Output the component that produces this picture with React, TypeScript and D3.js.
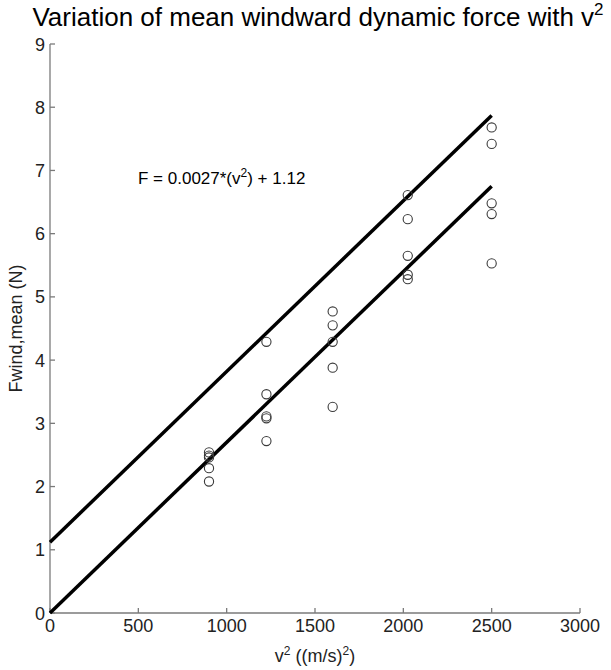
import React from "react";
import * as d3 from "d3";

const xValues = [900, 1225, 1600, 2025, 2500];
const group900 = [2.54, 2.49, 2.46, 2.29, 2.08];
const group1225 = [4.29, 3.46, 3.11, 3.08, 2.72];
const group1600 = [4.77, 4.55, 4.29, 3.88, 3.26];
const group2025 = [6.61, 6.23, 5.65, 5.35, 5.28];
const group2500 = [7.68, 7.42, 6.48, 6.31, 5.53];
const groups = [group900, group1225, group1600, group2025, group2500];

const upperFit = { slope: 0.0027, intercept: 1.12 };
const lowerFit = { slope: 0.0027, intercept: 0 };
const fitRange = [0, 2500];

const xTicks = [0, 500, 1000, 1500, 2000, 2500, 3000];
const yTicks = [0, 1, 2, 3, 4, 5, 6, 7, 8, 9];

const W = 611;
const H = 670;
const FONT = "'Liberation Sans', Arial, sans-serif";

export default function App() {
  const x = d3.scaleLinear().domain([0, 3000]).range([50, 580]);
  const y = d3.scaleLinear().domain([0, 9]).range([613, 44]);

  const points: { vx: number; vy: number }[] = [];
  xValues.forEach((vx, i) => groups[i].forEach((vy) => points.push({ vx, vy })));

  const fitPath = (f: { slope: number; intercept: number }) =>
    d3
      .line<number>()
      .x((d) => x(d))
      .y((d) => y(f.slope * d + f.intercept))(fitRange) as string;

  const axisColor = "#7a7a7a";
  const textColor = "#222";

  return (
    <svg
      width={W}
      height={H}
      style={{ position: "absolute", left: 0, top: 0, background: "#fff" }}
      fontFamily={FONT}
    >
      <rect x={0} y={0} width={W} height={H} fill="#fff" />
      {/* title */}
      <text x={318} y={26} textAnchor="middle" fontSize={26} fill="#000">
        Variation of mean windward dynamic force with v
        <tspan dy={-11} fontSize={17}>2</tspan>
      </text>

      {/* axes */}
      <line x1={x(0)} x2={x(0)} y1={y(0)} y2={y(9)} stroke={axisColor} strokeWidth={1.3} />
      <line x1={x(0)} x2={x(3000)} y1={y(0)} y2={y(0)} stroke={axisColor} strokeWidth={1.3} />
      {yTicks.map((t) => (
        <g key={"y" + t}>
          <line x1={x(0)} x2={x(0) + 5} y1={y(t)} y2={y(t)} stroke={axisColor} strokeWidth={1.3} />
          <text x={x(0) - 5} y={y(t) + 6.5} textAnchor="end" fontSize={18} fill={textColor}>
            {t}
          </text>
        </g>
      ))}
      {xTicks.map((t) => (
        <g key={"x" + t}>
          <line x1={x(t)} x2={x(t)} y1={y(0)} y2={y(0) - 5} stroke={axisColor} strokeWidth={1.3} />
          <text x={x(t)} y={y(0) + 19} textAnchor="middle" fontSize={18} fill={textColor}>
            {t}
          </text>
        </g>
      ))}

      {/* axis labels */}
      <text
        transform={`translate(22, ${(y(0) + y(9)) / 2}) rotate(-90)`}
        textAnchor="middle"
        fontSize={18}
        fill={textColor}
      >
        Fwind,mean (N)
      </text>
      <text x={315} y={662} textAnchor="middle" fontSize={18} fill={textColor}>
        v<tspan dy={-7} fontSize={12}>2</tspan>
        <tspan dy={7}> ((m/s)</tspan>
        <tspan dy={-7} fontSize={12}>2</tspan>
        <tspan dy={7}>)</tspan>
      </text>

      {/* fit lines */}
      <path d={fitPath(upperFit)} stroke="#000" strokeWidth={3.5} fill="none" />
      <path d={fitPath(lowerFit)} stroke="#000" strokeWidth={3.5} fill="none" />

      {/* data points */}
      {points.map((p, i) => (
        <circle key={i} cx={x(p.vx)} cy={y(p.vy)} r={4.6} fill="none" stroke="#3a3a3a" strokeWidth={1.1} />
      ))}

      {/* equation */}
      <text x={138} y={184} fontSize={17} fill="#000">
        F = 0.0027*(v<tspan dy={-7} fontSize={12}>2</tspan>
        <tspan dy={7}>) + 1.12</tspan>
      </text>
    </svg>
  );
}
